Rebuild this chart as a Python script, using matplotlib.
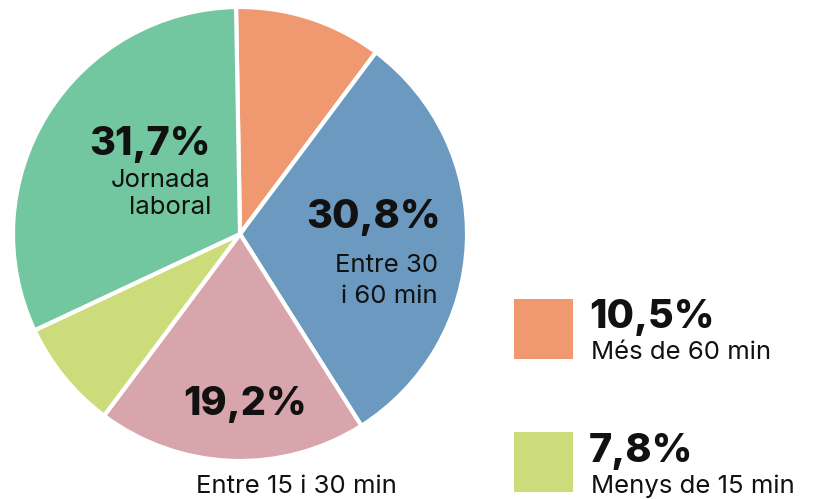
import matplotlib
matplotlib.use("Agg")
import matplotlib.pyplot as plt
from matplotlib.patches import Rectangle

labels = ["Més de 60 min", "Entre 30 i 60 min", "Entre 15 i 30 min",
          "Menys de 15 min", "Jornada laboral"]
shares = [10.5, 30.8, 19.2, 7.8, 31.7]
share_text = ["10,5%", "30,8%", "19,2%", "7,8%", "31,7%"]
colors = ["#F0986F", "#6B99BF", "#D8A5AD", "#CDDC7A", "#72C6A0"]

FONT = ["Inter", "DejaVu Sans"]
INK = "#111111"
W, H = 814, 499

fig = plt.figure(figsize=(W / 100, H / 100), dpi=100)
ax = fig.add_axes([0, 0, 1, 1])
ax.set_xlim(0, W)
ax.set_ylim(0, H)
ax.set_aspect("equal")
ax.axis("off")

ax.pie(shares, colors=colors, startangle=91, counterclock=False,
       center=(240, H - 234), radius=227,
       wedgeprops=dict(edgecolor="white", linewidth=3))
ax.set_xlim(0, W)
ax.set_ylim(0, H)


def big(x, y, s, ha):
    ax.text(x, H - y, s, ha=ha, va="baseline", fontsize=28.5,
            fontweight="heavy", color=INK, family=FONT)


def small(x, y, s, ha):
    ax.text(x, H - y, s, ha=ha, va="baseline", fontsize=18.5, color=INK,
            family=FONT)


# labels inside the pie
big(211, 155, share_text[4], "right")
small(211, 187, "Jornada", "right")
small(211, 214, "laboral", "right")
big(441, 228, share_text[1], "right")
small(438, 272, "Entre 30", "right")
small(438, 303, "i 60 min", "right")
big(245, 415, share_text[2], "center")
small(296, 493, labels[2], "center")

# legend for the two thin slices
for i, y0, base in [(0, 299, 328), (3, 432, 462)]:
    ax.add_patch(Rectangle((514, H - y0 - 60), 59, 60, color=colors[i], lw=0))
    big(589, base, share_text[i], "left")
    small(591, base + 31, labels[i], "left")

fig.savefig("out.png", dpi=100)
